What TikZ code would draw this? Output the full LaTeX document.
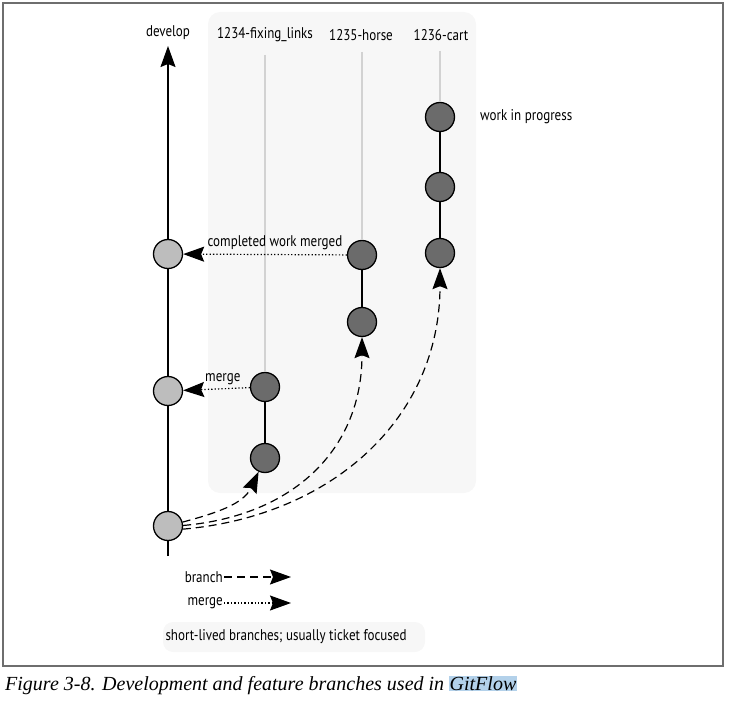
\documentclass[tikz,border=0pt]{standalone}
\usepackage{fontspec}
\setmainfont{Liberation Serif}
\newfontfamily\labelfont[FakeStretch=0.84]{PT Sans}
\usepackage[HTML]{xcolor}
\usetikzlibrary{positioning, arrows.meta}

\definecolor{panelgrey}{HTML}{F7F7F7}
\definecolor{devgrey}{HTML}{BDBDBD}
\definecolor{featgrey}{HTML}{6B6B6B}
\definecolor{trackgrey}{HTML}{D2D2D2}
\definecolor{framegrey}{HTML}{6E6E6E}
\definecolor{markblue}{HTML}{B3D1EA}

\tikzset{
  devcommit/.style={circle, draw=black, line width=1.3pt, fill=devgrey, minimum size=29pt, inner sep=0pt},
  featcommit/.style={circle, draw=black, line width=1.3pt, fill=featgrey, minimum size=29pt, inner sep=0pt},
  lbl/.style={font=\labelfont\fontsize{15.5}{18}\selectfont, inner sep=1pt},
  bigtip/.style={-{Stealth[length=21pt,width=15pt,inset=3pt]}},
  branchline/.style={bigtip, line width=1.2pt, dash pattern=on 8pt off 5pt},
  mergeline/.style={bigtip, line width=1.2pt, dash pattern=on 1.3pt off 2.1pt},
  track/.style={trackgrey, line width=1.4pt}
}

\begin{document}
\begin{tikzpicture}[x=1pt, y=-1pt]
\useasboundingbox (0,0) rectangle (729,701);
% outer frame
\draw[framegrey, line width=1.5pt] (3,3) rectangle (723,666);
% feature branch panel
\fill[panelgrey, rounded corners=12pt] (208,12) rectangle (476,493);
\fill[panelgrey, rounded corners=10pt] (163,622) rectangle (425,652);

% develop line
\coordinate (devstart) at (168,556);
\coordinate (devend) at (168,46);
\draw[bigtip, line width=1.3pt] (devstart) -- (devend);
\node[lbl] (devlabel) at (168,33) {develop};

% branch labels
\node[lbl] (fixlabel) at (265,35) {1234-fixing\_links};
\node[lbl] (horselabel) at (361,35) {1235-horse};
\node[lbl] (cartlabel) at (441,35) {1236-cart};

% faint branch tracks
\coordinate (fixtop) at (265,55);
\coordinate (horsetop) at (362,52);
\coordinate (carttop) at (440,51);

% commits on develop
\node[devcommit] (d0) at (168,526) {};
\node[devcommit] (d1) at (168,391) {};
\node[devcommit] (d2) at (168,254) {};

% commits on feature branches
\node[featcommit] (f1) at (265,458) {};
\node[featcommit] (f2) at (265,387) {};
\node[featcommit] (h1) at (362,322) {};
\node[featcommit] (h2) at (362,255) {};
\node[featcommit] (c1) at (440,253) {};
\node[featcommit] (c2) at (440,187) {};
\node[featcommit] (c3) at (440,117) {};

\draw[track] (fixtop) -- (f2);
\draw[track] (horsetop) -- (h2);
\draw[track] (carttop) -- (c3);
\draw[line width=1.3pt] (f1) -- (f2);
\draw[line width=1.3pt] (h1) -- (h2);
\draw[line width=1.3pt] (c1) -- (c2) -- (c3);

\node[lbl, anchor=west] (wip) at (479,117) {work in progress};

% merges back to develop
\draw[mergeline] (h2) -- (d2);
\node[lbl] (donelabel) at (275,243) {completed work merged};
\draw[mergeline] (f2) -- (d1);
\node[lbl, anchor=west] (mergelabel) at (204,379) {merge};

% branching off develop
\draw[branchline] (d0.15) to[out=15, in=-115] (f1.-115);
\draw[branchline] (d0.2) to[out=5, in=-90, looseness=1.1] (h1.south);
\draw[branchline] (d0.-12) to[out=5, in=-90, looseness=1.05] (c1.south);

% legend
\node[lbl, anchor=east] (branchkey) at (224,577) {branch};
\coordinate (branchkeyend) at (291,577);
\draw[branchline] (branchkey) -- (branchkeyend);
\node[lbl, anchor=east] (mergekey) at (224,603) {merge};
\coordinate (mergekeyend) at (291,603);
\draw[mergeline] (mergekey) -- (mergekeyend);

\node[lbl] (note) at (286,637) {short-lived branches; usually ticket focused};

% caption
\node[anchor=west, inner sep=0pt, font=\itshape\fontsize{20}{23}\selectfont] (caption) at (5,685)
  {Figure 3-8. Development and feature branches used in {\setlength{\fboxsep}{0.5pt}\colorbox{markblue}{GitFlow}}};
\end{tikzpicture}
\end{document}
